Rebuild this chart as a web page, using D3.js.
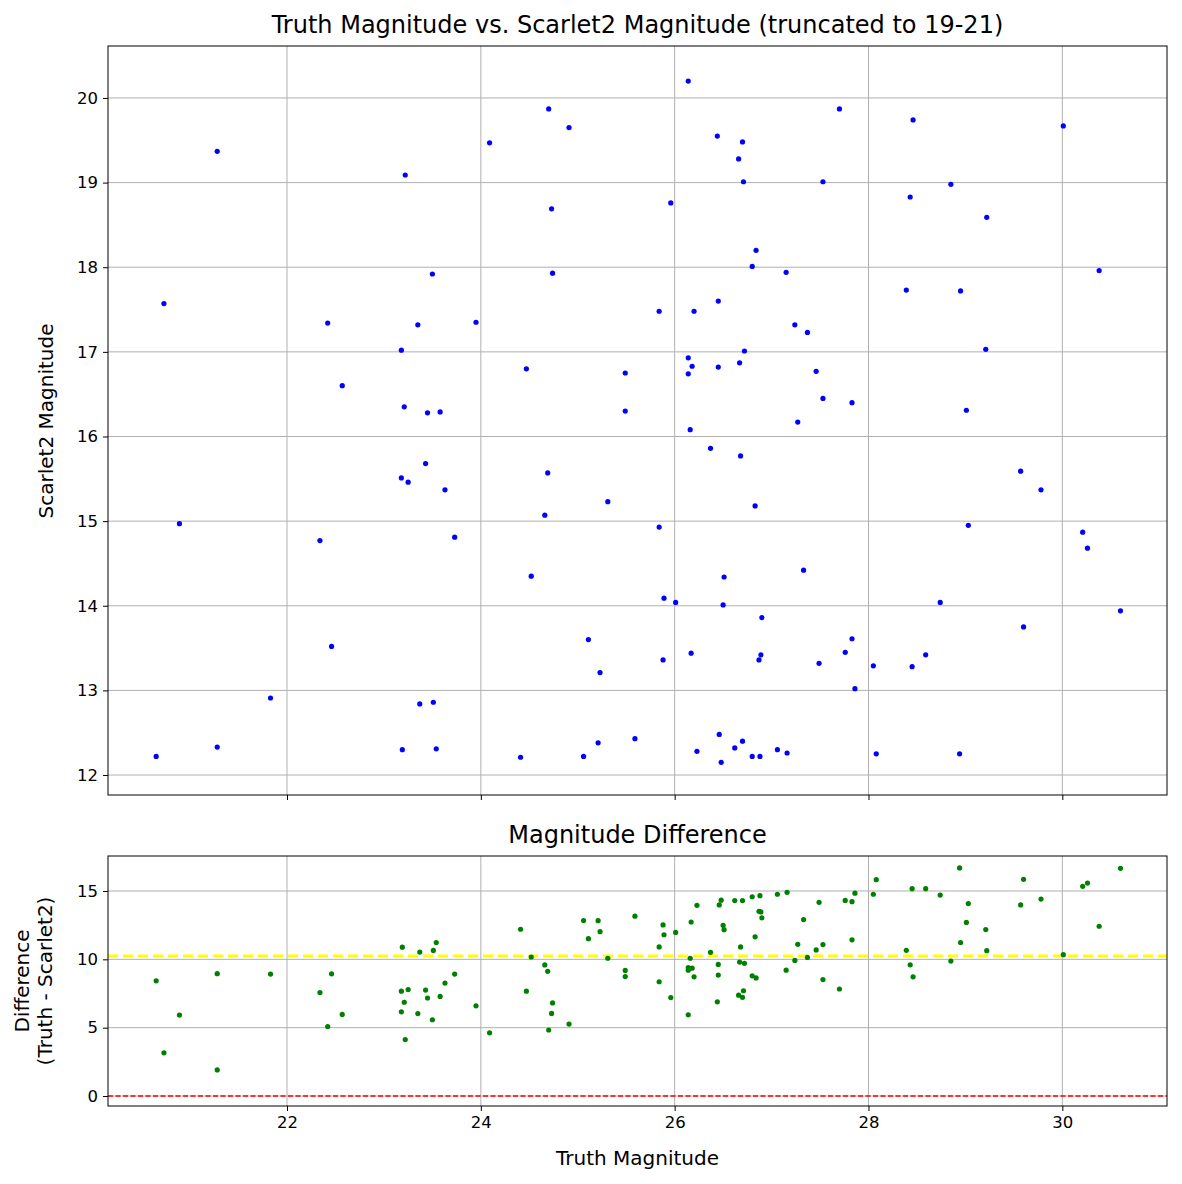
<!DOCTYPE html>
<html><head><meta charset="utf-8">
<script src="https://cdn.jsdelivr.net/npm/d3@7"></script>
<style>body{margin:0;background:#fff}svg{font-family:"DejaVu Sans",sans-serif}</style>
</head><body><svg id="c" width="1182" height="1184"></svg>
<script>
const truth=[20.65,20.73,20.89,21.28,21.28,21.83,22.34,22.42,22.46,22.57,23.22,23.18,23.21,23.18,23.25,23.19,23.35,23.37,23.50,23.45,23.58,23.43,23.63,23.73,23.51,23.54,23.95,24.09,24.47,24.52,24.41,24.70,24.91,24.73,24.74,24.69,24.66,25.06,25.11,25.21,25.23,25.31,25.49,25.49,25.59,25.84,25.84,25.89,25.88,26.01,25.96,26.14,26.14,26.18,26.14,26.16,26.20,26.17,26.23,26.37,26.44,26.45,26.45,26.46,26.48,26.51,26.50,26.66,26.70,26.71,26.72,26.67,26.68,26.62,26.70,26.80,26.84,26.83,26.80,26.88,26.90,26.89,26.87,27.06,27.15,27.16,27.24,27.37,27.27,27.33,27.46,27.53,27.53,27.49,27.70,27.76,27.83,27.83,27.86,28.05,28.08,28.39,28.43,28.46,28.45,28.59,28.74,28.85,28.95,28.94,29.01,29.03,29.22,29.21,29.57,29.60,29.78,30.01,30.21,30.26,30.38,30.60];
const scarlet=[12.22,17.57,14.97,19.37,12.33,12.91,14.77,17.34,13.52,16.60,19.09,17.02,16.35,15.51,15.46,12.30,17.32,12.84,17.92,16.28,16.29,15.68,15.37,14.81,12.86,12.31,17.35,19.47,16.80,14.35,12.21,19.87,19.65,18.69,17.93,15.57,15.07,12.22,13.60,12.38,13.21,15.23,16.75,16.30,12.43,17.48,14.93,14.09,13.36,14.04,18.76,20.20,16.93,16.83,16.74,16.08,17.48,13.44,12.28,15.86,19.55,17.60,16.82,12.48,12.15,14.34,14.01,19.28,19.48,19.01,17.01,16.87,15.77,12.32,12.40,18.01,18.20,15.18,12.22,12.22,13.86,13.42,13.36,12.30,17.94,12.26,17.32,17.23,16.17,14.42,16.77,16.45,19.01,13.32,19.87,13.45,16.40,13.61,13.02,13.29,12.25,17.73,18.83,19.74,13.28,13.42,14.04,18.98,17.72,12.25,16.31,14.95,18.59,17.03,15.59,13.75,15.37,19.67,14.87,14.68,17.96,13.94];
const xTicks=[22,24,26,28,30], yTopTicks=[12,13,14,15,16,17,18,19,20], yBotTicks=[0,5,10,15];
const meanDiff=10.24; // mean difference line
const diff=truth.map((t,i)=>t-scarlet[i]);

const svg=d3.select("#c");
const L=108,R=1167;
const x=d3.scaleLinear().domain([20.153,31.08]).range([L,R]);
const yT=d3.scaleLinear().domain([11.764,20.614]).range([795,46]);
const yB=d3.scaleLinear().domain([-0.73,17.56]).range([1106,856]);

function panel(y,top,bot,yt,showX){
  const g=svg.append("g");
  g.selectAll(".gx").data(xTicks).enter().append("line").attr("x1",d=>x(d)).attr("x2",d=>x(d)).attr("y1",top).attr("y2",bot).attr("stroke","#b0b0b0").attr("stroke-width",1);
  g.selectAll(".gy").data(yt).enter().append("line").attr("x1",L).attr("x2",R).attr("y1",d=>y(d)).attr("y2",d=>y(d)).attr("stroke","#b0b0b0").attr("stroke-width",1);
  const ax=g.append("g").attr("transform",`translate(0,${bot})`).call(d3.axisBottom(x).tickValues(xTicks).tickSize(5).tickPadding(5).tickFormat(showX?d3.format("d"):""));
  const ay=g.append("g").attr("transform",`translate(${L},0)`).call(d3.axisLeft(y).tickValues(yt).tickSize(5).tickPadding(5).tickFormat(d3.format("d")));
  [ax,ay].forEach(a=>{a.select(".domain").remove();a.attr("font-size",null).attr("font-family",null);a.selectAll("text").style("font-size","16.5px").style("fill","#000").style("font-family","DejaVu Sans");a.selectAll("line").attr("stroke","#000");});
  return g;
}
const gT=panel(yT,46,795,yTopTicks,false);
gT.selectAll("circle").data(truth).enter().append("circle").attr("cx",d=>x(d)).attr("cy",(d,i)=>yT(scarlet[i])).attr("r",2.6).attr("fill","blue");
svg.append("rect").attr("x",L).attr("y",46).attr("width",R-L).attr("height",749).attr("fill","none").attr("stroke","#000");

const gB=panel(yB,856,1106,yBotTicks,true);
gB.append("line").attr("x1",L).attr("x2",R).attr("y1",yB(0)).attr("y2",yB(0)).attr("stroke","red").attr("stroke-width",1.3).attr("stroke-dasharray","5,2.5");
gB.append("line").attr("x1",L).attr("x2",R).attr("y1",yB(meanDiff)).attr("y2",yB(meanDiff)).attr("stroke","yellow").attr("stroke-width",3).attr("stroke-dasharray","10,5");
gB.selectAll("circle").data(truth).enter().append("circle").attr("cx",d=>x(d)).attr("cy",(d,i)=>yB(diff[i])).attr("r",2.6).attr("fill","green");
svg.append("rect").attr("x",L).attr("y",856).attr("width",R-L).attr("height",250).attr("fill","none").attr("stroke","#000");

svg.append("text").attr("x",(L+R)/2).attr("y",33).attr("text-anchor","middle").style("font-size","24px").text("Truth Magnitude vs. Scarlet2 Magnitude (truncated to 19-21)");
svg.append("text").attr("x",(L+R)/2).attr("y",843).attr("text-anchor","middle").style("font-size","24px").text("Magnitude Difference");
svg.append("text").attr("x",(L+R)/2).attr("y",1165).attr("text-anchor","middle").style("font-size","20px").text("Truth Magnitude");
svg.append("text").attr("transform","translate(53,421) rotate(-90)").attr("text-anchor","middle").style("font-size","20px").text("Scarlet2 Magnitude");
const yl=svg.append("text").attr("transform","translate(33,981) rotate(-90)").attr("text-anchor","middle").style("font-size","20px");
yl.append("tspan").attr("x",0).attr("dy","-0.2em").text("Difference");
yl.append("tspan").attr("x",0).attr("dy","1.15em").text("(Truth - Scarlet2)");
</script></body></html>
